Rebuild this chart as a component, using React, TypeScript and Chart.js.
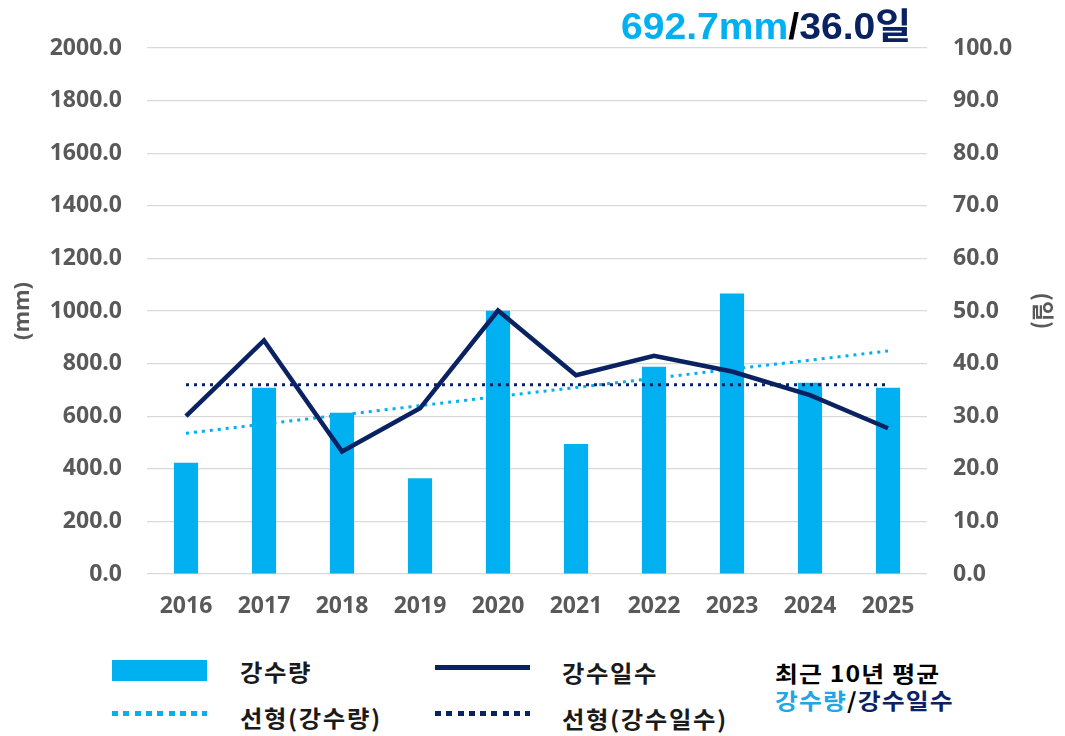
import { useEffect, useRef } from 'react';
import { Chart, registerables } from 'chart.js';

Chart.register(...registerables);

const years = ['2016', '2017', '2018', '2019', '2020', '2021', '2022', '2023', '2024', '2025'];
const rainfall = [423, 708, 613, 364, 1001, 494, 788, 1067, 727, 708];
const rainDays = [30.0, 44.4, 23.3, 31.5, 50.1, 37.8, 41.5, 38.5, 34.0, 27.7];
const rainfallTrend = [535, 570, 605, 640, 675, 709, 744, 779, 813, 848];
const rainDaysTrend = [36.0, 36.0, 36.0, 36.0, 36.0, 36.0, 36.0, 36.0, 36.0, 36.0];

const avgRain = '692.7mm';
const avgDays = '36.0';

const LIGHT = '#00b0f0';
const NAVY = '#0b2262';
const TICK_FONT = { family: "'Open Sans', sans-serif", size: 23, weight: '700' as const };
const KR = "'Noto Sans CJK KR', sans-serif";

function ChartCanvas() {
  const ref = useRef<HTMLCanvasElement | null>(null);
  useEffect(() => {
    if (!ref.current) return;
    const chart = new Chart(ref.current, {
      type: 'bar',
      data: {
        labels: years,
        datasets: [
          {
            type: 'bar',
            label: '강수량',
            data: rainfall,
            backgroundColor: LIGHT,
            barPercentage: 0.31,
            categoryPercentage: 1,
            yAxisID: 'y',
            order: 5,
          },
          {
            type: 'line',
            label: '선형(강수량)',
            data: rainfallTrend,
            borderColor: LIGHT,
            borderWidth: 3,
            borderDash: [3, 5],
            pointRadius: 0,
            fill: false,
            yAxisID: 'y',
            order: 3,
          },
          {
            type: 'line',
            label: '선형(강수일수)',
            data: rainDaysTrend,
            borderColor: NAVY,
            borderWidth: 3,
            borderDash: [3, 5],
            pointRadius: 0,
            fill: false,
            yAxisID: 'y1',
            order: 2,
          },
          {
            type: 'line',
            label: '강수일수',
            data: rainDays,
            borderColor: NAVY,
            borderWidth: 4.5,
            pointRadius: 0,
            tension: 0,
            fill: false,
            yAxisID: 'y1',
            order: 1,
          },
        ],
      },
      options: {
        responsive: false,
        animation: false,
        devicePixelRatio: 1,
        layout: { padding: { top: 48, left: 0, right: 0, bottom: 0 } },
        plugins: { legend: { display: false }, tooltip: { enabled: false }, title: { display: false } },
        scales: {
          x: {
            grid: { display: false, drawTicks: false },
            border: { display: false },
            ticks: { font: TICK_FONT, color: '#595959', padding: 19 },
            afterFit: (s: any) => { s.height = 62; },
          },
          y: {
            position: 'left',
            min: 0,
            max: 2000,
            ticks: {
              stepSize: 200,
              font: TICK_FONT,
              color: '#595959',
              padding: 25,
              callback: (v: any) => Number(v).toFixed(1),
            },
            grid: { color: '#d9d9d9', lineWidth: 1.2, drawTicks: false },
            border: { display: false },
            title: {
              display: true,
              text: '(mm)',
              color: '#595959',
              font: { family: "'Open Sans', sans-serif", size: 22, weight: '700' },
              padding: { top: 10, bottom: 0 },
            },
            afterFit: (s: any) => { s.width = 147; },
          },
          y1: {
            position: 'right',
            min: 0,
            max: 100,
            ticks: {
              stepSize: 10,
              font: TICK_FONT,
              color: '#595959',
              padding: 26,
              callback: (v: any) => Number(v).toFixed(1),
            },
            grid: { display: false, drawTicks: false },
            border: { display: false },
            title: {
              display: true,
              text: '(일)',
              color: '#595959',
              font: { family: "'Noto Sans CJK KR', sans-serif", size: 22, weight: '700' },
              padding: { top: 8, bottom: 0 },
            },
            afterFit: (s: any) => { s.width = 138; },
          },
        },
      },
    });
    return () => chart.destroy();
  }, []);
  return <canvas ref={ref} width={1065} height={636} style={{ display: 'block', width: 1065, height: 636 }} />;
}

const textStyle = (left: number, cy: number, extra: any = {}) => ({
  position: 'absolute' as const,
  left,
  top: cy - 16,
  height: 30,
  lineHeight: '30px',
  fontFamily: KR,
  fontSize: 23,
  fontWeight: 700,
  color: '#1a1a1a',
  letterSpacing: '1.5px',
  whiteSpace: 'nowrap' as const,
  transform: 'scaleX(1.06)',
  transformOrigin: 'left center',
  ...extra,
});

const dotted = (color: string) =>
  `repeating-linear-gradient(to right, ${color} 0px, ${color} 6px, transparent 6px, transparent 11.3px)`;

export default function App() {
  return (
    <div style={{ position: 'absolute', left: 0, top: 0, width: 1065, height: 736, background: '#fff', overflow: 'hidden' }}>
      <ChartCanvas />
      <div
        style={{
          position: 'absolute',
          left: 621,
          top: 5,
          height: 36,
          lineHeight: '36px',
          fontFamily: "'Liberation Sans', Arial, sans-serif",
          fontWeight: 700,
          fontSize: 36,
          whiteSpace: 'nowrap',
          transform: 'scaleX(1.086)',
          transformOrigin: 'left center',
        }}
      >
        <span style={{ color: LIGHT }}>{avgRain}</span>
        <span style={{ color: '#000' }}>/</span>
        <span style={{ color: NAVY }}>{avgDays}</span>
        <span style={{ color: NAVY, fontFamily: KR }}>일</span>
      </div>

      <div style={{ position: 'absolute', left: 112, top: 660, width: 95, height: 21, background: LIGHT }} />
      <div style={textStyle(240, 672)}>강수량</div>
      <div style={{ position: 'absolute', left: 435, top: 665, width: 95, height: 5, background: NAVY }} />
      <div style={textStyle(562, 673)}>강수일수</div>

      <div style={{ position: 'absolute', left: 112, top: 711, width: 95, height: 5, background: dotted(LIGHT) }} />
      <div style={textStyle(240, 718)}>선형(강수량)</div>
      <div style={{ position: 'absolute', left: 435, top: 711, width: 95, height: 5, background: dotted(NAVY) }} />
      <div style={textStyle(562, 719)}>선형(강수일수)</div>

      <div style={textStyle(775, 673, { letterSpacing: '1px', fontSize: 22, color: '#000', transform: 'scaleX(1.13)' })}>최근 10년 평균</div>
      <div style={textStyle(775, 700, { letterSpacing: '1px', fontSize: 22, transform: 'scaleX(1.13)' })}>
        <span style={{ color: '#1ea7e4' }}>강수량</span>
        <span style={{ color: '#000' }}>/</span>
        <span style={{ color: NAVY }}>강수일수</span>
      </div>
    </div>
  );
}
